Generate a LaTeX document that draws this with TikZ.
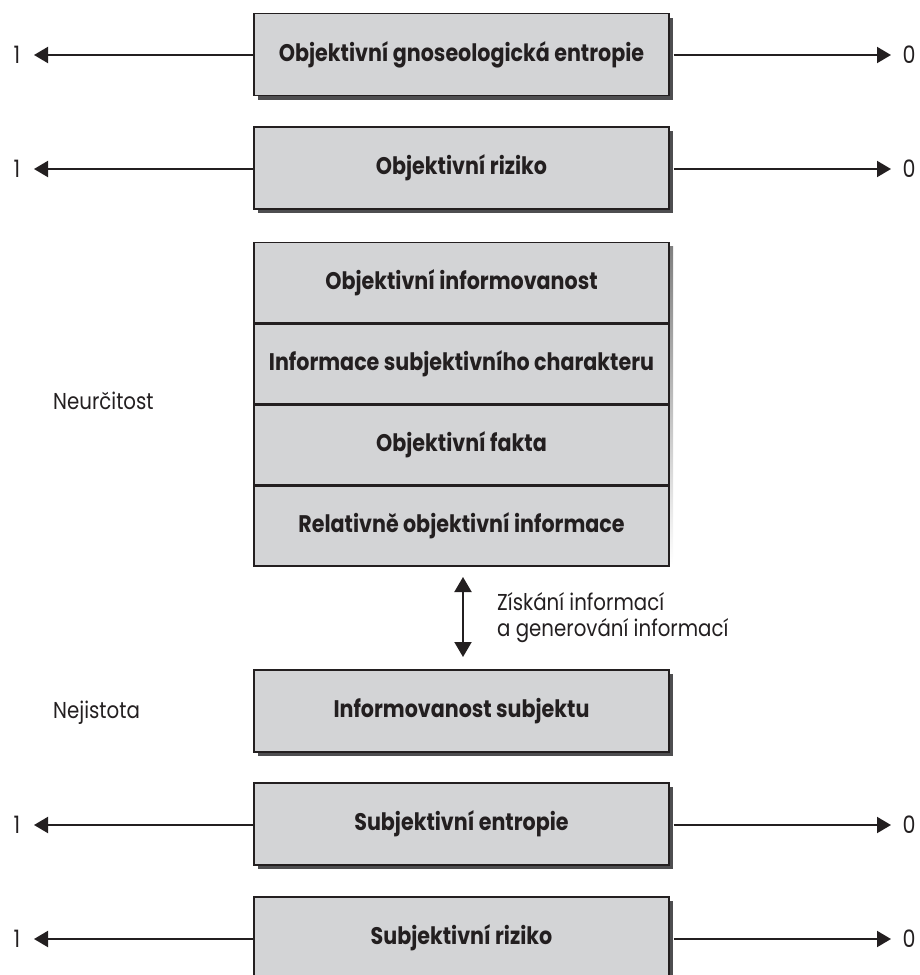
\documentclass[tikz,border=0pt]{standalone}
\usepackage{fontspec}
\setmainfont{Poppins}[FakeStretch=0.86]
\usetikzlibrary{arrows.meta,shadows}
\definecolor{boxfill}{RGB}{211,212,214}
\definecolor{ink}{RGB}{35,31,32}
\definecolor{shade}{RGB}{78,78,80}
\begin{document}
\begin{tikzpicture}[x=1pt,y=-1pt,
  boxbase/.style={draw=ink, line width=1.4pt, fill=boxfill, minimum width=415pt,
    inner sep=0pt, text=ink, font=\fontsize{24}{28}\selectfont\bfseries},
  box/.style={boxbase, minimum height=82pt,
    general shadow={fill=shade, shadow xshift=4pt, shadow yshift=-4pt}},
  cell/.style={boxbase, minimum height=79.75pt},
  lbl/.style={inner sep=0pt, text=ink, font=\fontsize{23}{27}\selectfont},
  digit/.style={inner sep=0pt, text=ink, font=\fontsize{24}{28}\selectfont},
  arr/.style={draw=ink, line width=2pt, -{Triangle[length=14pt,width=16pt]}},
  darr/.style={draw=ink, line width=2pt, {Triangle[length=15pt,width=17pt]}-{Triangle[length=15pt,width=17pt]}}
]
\clip (0,0) rectangle (919,975);

% simple boxes
\node[box] (b1) at (461.5,54.5) {Objektivní gnoseologická entropie};
\node[box] (b2) at (461.5,168) {Objektivní riziko};
\node[box] (b3) at (461.5,711) {Informovanost subjektu};
\node[box] (b4) at (461.5,824) {Subjektivní entropie};
\node[box] (b5) at (461.5,938) {Subjektivní riziko};

% stacked box
\fill[shade] (258,246) rectangle (673,565);
\node[cell, anchor=north] (s1) at (461.5,242) {Objektivní informovanost};
\node[cell, anchor=north] (s2) at (s1.south) {Informace subjektivního charakteru};
\node[cell, anchor=north] (s3) at (s2.south) {Objektivní fakta};
\node[cell, anchor=north] (s4) at (s3.south) {Relativně objektivní informace};

% end labels
\foreach \n/\y in {1/55,2/169,4/825,5/939}{
  \node[digit] (one\n) at (17,\y) {1};
  \node[digit] (zero\n) at (909,\y) {0};
  \coordinate (tl\n) at (34,\y);
  \coordinate (tr\n) at (891,\y);
}
\draw[arr] (b1.west |- tl1) -- (tl1);
\draw[arr] (b1.east |- tr1) ++(4,0) -- (tr1);
\draw[arr] (b2.west |- tl2) -- (tl2);
\draw[arr] (b2.east |- tr2) ++(4,0) -- (tr2);
\draw[arr] (b4.west |- tl4) -- (tl4);
\draw[arr] (b4.east |- tr4) ++(4,0) -- (tr4);
\draw[arr] (b5.west |- tl5) -- (tl5);
\draw[arr] (b5.east |- tr5) ++(4,0) -- (tr5);

% side labels
\node[lbl, anchor=west] (neur) at (53,401) {Neurčitost};
\node[lbl, anchor=west] (nejist) at (53,713) {Nejistota};

% double arrow and its label
\coordinate (dtop) at (463,577);
\coordinate (dbot) at (463,657);
\draw[darr] (dtop) -- (dbot);
\node[lbl, anchor=north west, align=left, font=\fontsize{23}{26}\selectfont] (gain) at (497,592)
  {Získání informací\\a generování informací};
\end{tikzpicture}
\end{document}
